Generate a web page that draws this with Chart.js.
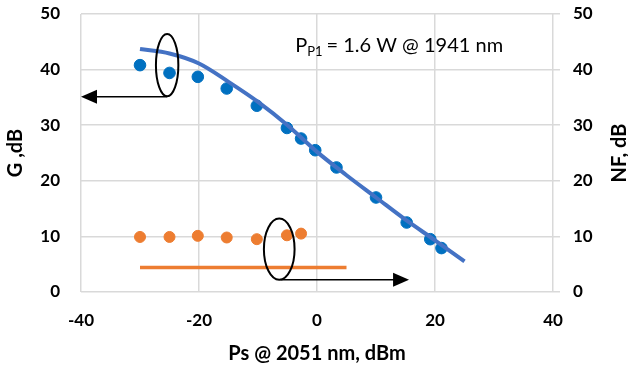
<!DOCTYPE html>
<html>
<head>
<meta charset="utf-8">
<script src="https://cdn.jsdelivr.net/npm/chart.js@4/dist/chart.umd.min.js"></script>
<style>
  html, body { margin: 0; padding: 0; background: #fff; }
  #wrap { width: 628px; height: 366px; }
</style>
</head>
<body>
<div id="wrap"><canvas id="c" width="628" height="366"></canvas></div>
<script>
// 量測值 (點)
const gX = [-30, -25, -20.2, -15.3, -10.2, -5.1, -2.7, -0.3, 3.3, 10, 15.2, 19.2, 21.1];
const gY = [40.8, 39.4, 38.7, 36.6, 33.5, 29.5, 27.6, 25.5, 22.4, 17.0, 12.5, 9.5, 7.9];
const nfX = [-30, -25, -20.2, -15.3, -10.2, -5.1, -2.7];
const nfY = [9.9, 9.9, 10.1, 9.8, 9.5, 10.2, 10.5];

// 模擬值 (線)
const gSimX = [-30, -25, -20, -15, -10, -5, 0, 5, 10, 15, 20, 25];
const gSimY = [43.7, 42.9, 41.1, 37.8, 34.2, 30.0, 25.2, 21.0, 17.0, 13.0, 9.3, 5.5];
const nfSimX = [-30, 5];
const nfSimY = [4.4, 4.4];

// 橢圓與箭頭 (資料座標)
const ellipses = [
  { x: -25.4, y: 40.8, rx: 1.9, ry: 5.6 },
  { x: -6.4, y: 7.7, rx: 2.6, ry: 5.5 }
];
const arrows = [
  { x0: -25.4, y0: 35.1, x1: -40, y1: 35.1 },
  { x0: -6.2, y0: 2.2, x1: 15.6, y1: 2.2 }
];

const noteText = '= 1.6 W @ 1941 nm';
const noteAt = { x: -3.7, y: 43.2 };
const rightTitle = 'NF, dB';

const toPts = (xs, ys) => xs.map((x, i) => ({ x: x, y: ys[i] }));

const FONT = 'Lato, "Open Sans", sans-serif';

const annotate = {
  id: 'annotate',
  afterDatasetsDraw(chart) {
    const ctx = chart.ctx;
    const xs = chart.scales.x, ys = chart.scales.y;
    ctx.save();
    ctx.strokeStyle = '#000';
    ctx.fillStyle = '#000';
    ctx.lineWidth = 2;
    ellipses.forEach(e => {
      const cx = xs.getPixelForValue(e.x), cy = ys.getPixelForValue(e.y);
      const rx = Math.abs(xs.getPixelForValue(e.x + e.rx) - cx);
      const ry = Math.abs(ys.getPixelForValue(e.y + e.ry) - cy);
      ctx.beginPath();
      ctx.ellipse(cx, cy, rx, ry, 0, 0, Math.PI * 2);
      ctx.stroke();
    });
    ctx.lineWidth = 1.5;
    arrows.forEach(a => {
      const x0 = xs.getPixelForValue(a.x0), y0 = ys.getPixelForValue(a.y0);
      const x1 = xs.getPixelForValue(a.x1), y1 = ys.getPixelForValue(a.y1);
      const dir = Math.sign(x1 - x0);
      ctx.beginPath();
      ctx.moveTo(x0, y0);
      ctx.lineTo(x1 - dir * 14, y1);
      ctx.stroke();
      ctx.beginPath();
      ctx.moveTo(x1, y1);
      ctx.lineTo(x1 - dir * 16, y1 - 7);
      ctx.lineTo(x1 - dir * 16, y1 + 7);
      ctx.closePath();
      ctx.fill();
    });
    // P_P1 文字
    const tx = xs.getPixelForValue(noteAt.x), ty = ys.getPixelForValue(noteAt.y);
    ctx.textBaseline = 'alphabetic';
    ctx.font = '20px ' + FONT;
    ctx.fillText('P', tx, ty);
    let w = ctx.measureText('P').width;
    ctx.font = '13px ' + FONT;
    ctx.fillText('P1', tx + w, ty + 4);
    w += ctx.measureText('P1').width + 4;
    ctx.font = '20px ' + FONT;
    ctx.fillText(noteText, tx + w, ty);
    ctx.restore();

    // 右側軸標題 (由下往上)
    const y2 = chart.scales.y2;
    ctx.save();
    ctx.translate(620, (y2.top + y2.bottom) / 2);
    ctx.rotate(-Math.PI / 2);
    ctx.font = 'bold 20px ' + FONT;
    ctx.fillStyle = '#000';
    ctx.textAlign = 'center';
    ctx.textBaseline = 'middle';
    ctx.fillText(rightTitle, 0, 0);
    ctx.restore();
  }
};

const tickFont = { family: FONT, size: 17, weight: 'bold' };
const titleFont = { family: FONT, size: 20, weight: 'bold' };
const gridStyle = { color: '#d9d9d9', lineWidth: 1.5, drawTicks: false };
const noPad = s => { s.paddingTop = 0; s.paddingBottom = 0; s.paddingLeft = 0; s.paddingRight = 0; };

new Chart(document.getElementById('c').getContext('2d'), {
  type: 'scatter',
  data: {
    datasets: [
      {
        label: 'G sim', type: 'line', data: toPts(gSimX, gSimY),
        borderColor: '#4472C4', borderWidth: 4, pointRadius: 0,
        tension: 0.4, cubicInterpolationMode: 'monotone', fill: false
      },
      {
        label: 'NF sim', type: 'line', data: toPts(nfSimX, nfSimY),
        borderColor: '#ED7D31', borderWidth: 3.5, pointRadius: 0, fill: false
      },
      {
        label: 'G', data: toPts(gX, gY),
        backgroundColor: '#0070C0', borderColor: '#0070C0', pointRadius: 5.8
      },
      {
        label: 'NF', data: toPts(nfX, nfY), yAxisID: 'y2',
        backgroundColor: '#ED7D31', borderColor: '#ED7D31', pointRadius: 5.5
      }
    ]
  },
  options: {
    responsive: false,
    animation: false,
    layout: { padding: { top: 14, left: 0, right: 0, bottom: 0 } },
    plugins: { legend: { display: false }, tooltip: { enabled: false } },
    scales: {
      x: {
        type: 'linear', min: -40, max: 40,
        ticks: { stepSize: 20, font: tickFont, color: '#000', padding: 18 },
        grid: gridStyle, border: { display: false },
        title: { display: true, text: 'Ps @ 2051 nm, dBm', font: titleFont, color: '#000', padding: { top: 2, bottom: 0 } },
        afterFit: s => { s.height = 74; noPad(s); }
      },
      y: {
        min: 0, max: 50,
        ticks: { stepSize: 10, font: tickFont, color: '#000', padding: 21 },
        grid: gridStyle, border: { display: false },
        title: { display: true, text: 'G ,dB', font: titleFont, color: '#000', padding: { top: 4, bottom: 0 } },
        afterFit: s => { s.width = 81; noPad(s); }
      },
      y2: {
        position: 'right', min: 0, max: 50,
        ticks: { stepSize: 10, font: tickFont, color: '#000', padding: 13 },
        grid: { drawOnChartArea: false, drawTicks: true, tickLength: 7, color: '#d9d9d9', lineWidth: 1.5 },
        border: { display: false },
        afterFit: s => { s.width = 75; noPad(s); }
      }
    }
  },
  plugins: [annotate]
});
</script>
</body>
</html>
